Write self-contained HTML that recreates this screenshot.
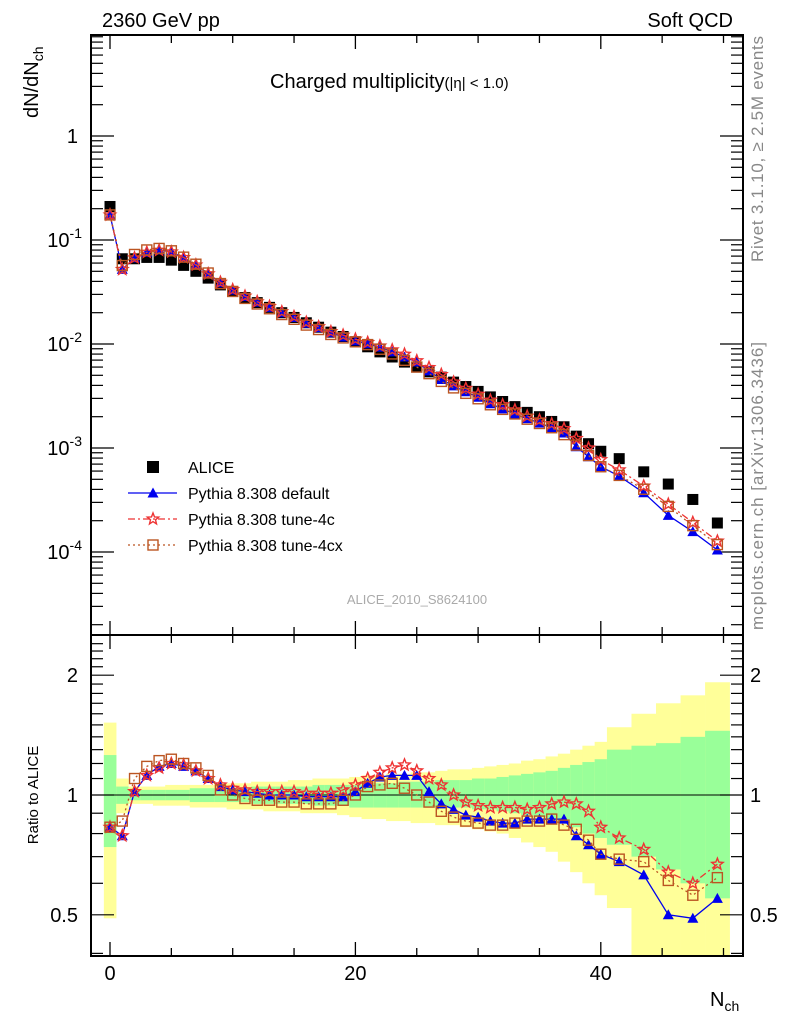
<!DOCTYPE html>
<html><head><meta charset="utf-8"><style>
body{margin:0;background:#fff;}
svg{display:block;font-family:"Liberation Sans",sans-serif;}
</style></head><body>
<svg id="c" width="786" height="1024" viewBox="0 0 786 1024" xmlns="http://www.w3.org/2000/svg">
<g id="bands"></g>
<g id="frame"></g>
<g id="series"></g>
<text x="102" y="27" font-size="20">2360 GeV pp</text>
<text x="733" y="27" font-size="20" text-anchor="end">Soft QCD</text>
<text x="270" y="88" font-size="20">Charged multiplicity<tspan font-size="15">(|η| &lt; 1.0)</tspan></text>
<text transform="translate(763,149) rotate(-90)" font-size="17" fill="#888" text-anchor="middle" textLength="226">Rivet 3.1.10, ≥ 2.5M events</text>
<text transform="translate(763,486) rotate(-90)" font-size="17" fill="#888" text-anchor="middle" textLength="288">mcplots.cern.ch [arXiv:1306.3436]</text>
<text x="417" y="604" font-size="13" fill="#aaa" text-anchor="middle">ALICE_2010_S8624100</text>
<text transform="translate(38,118) rotate(-90)" font-size="20">dN/dN<tspan font-size="14" dy="5">ch</tspan></text>
<text transform="translate(38,795) rotate(-90)" font-size="15" text-anchor="middle">Ratio to ALICE</text>
<text x="710" y="1006" font-size="20">N<tspan font-size="14" dy="5">ch</tspan></text>
<g id="legend"></g>
</svg>
<script>
const xs=[0,1,2,3,4,5,6,7,8,9,10,11,12,13,14,15,16,17,18,19,20,21,22,23,24,25,26,27,28,29,30,31,32,33,34,35,36,37,38,39,40,41.5,43.5,45.5,47.5,49.5];
const aliceVals=[0.21,0.066,0.066,0.068,0.068,0.064,0.057,0.05,0.043,0.037,0.032,0.028,0.025,0.0225,0.02,0.018,0.016,0.0145,0.013,0.0118,0.0105,0.0094,0.0084,0.0075,0.0067,0.006,0.0054,0.0048,0.0043,0.0039,0.0035,0.0031,0.0028,0.0025,0.0022,0.002,0.0018,0.0016,0.0013,0.0011,0.00093,0.00079,0.00059,0.00045,0.00032,0.00019];
const ratioDefault=[0.83,0.79,1.02,1.12,1.18,1.2,1.18,1.15,1.1,1.05,1.03,1.02,1.01,1.0,1.0,1.0,0.99,0.99,0.99,0.99,1.02,1.07,1.11,1.12,1.12,1.12,1.02,0.95,0.92,0.89,0.88,0.86,0.85,0.85,0.87,0.87,0.87,0.87,0.79,0.75,0.71,0.68,0.63,0.5,0.49,0.55];
const ratio4c=[0.83,0.79,1.02,1.12,1.17,1.2,1.19,1.15,1.1,1.06,1.04,1.03,1.02,1.02,1.02,1.02,1.01,1.01,1.01,1.03,1.06,1.1,1.14,1.17,1.19,1.15,1.1,1.06,1.0,0.96,0.94,0.93,0.93,0.93,0.92,0.93,0.95,0.96,0.95,0.91,0.83,0.78,0.73,0.64,0.6,0.67];
const ratio4cx=[0.83,0.86,1.1,1.18,1.22,1.23,1.2,1.17,1.12,1.03,1.0,0.98,0.97,0.97,0.96,0.96,0.95,0.95,0.95,0.97,1.0,1.05,1.06,1.07,1.04,1.0,0.96,0.91,0.88,0.86,0.85,0.84,0.84,0.85,0.86,0.86,0.87,0.84,0.82,0.77,0.71,0.69,0.68,0.61,0.56,0.62];
const yellowHi=[1.52,1.1,1.05,1.05,1.05,1.06,1.06,1.06,1.06,1.07,1.07,1.07,1.08,1.08,1.08,1.09,1.09,1.1,1.1,1.1,1.11,1.12,1.12,1.13,1.13,1.14,1.14,1.15,1.16,1.16,1.17,1.18,1.19,1.2,1.22,1.23,1.25,1.27,1.3,1.33,1.36,1.48,1.6,1.7,1.78,1.92];
const yellowLo=[0.49,0.9,0.95,0.95,0.94,0.94,0.94,0.93,0.93,0.93,0.92,0.92,0.92,0.91,0.91,0.91,0.9,0.9,0.9,0.89,0.88,0.87,0.87,0.86,0.86,0.85,0.85,0.84,0.84,0.83,0.82,0.81,0.8,0.78,0.76,0.74,0.72,0.68,0.64,0.6,0.56,0.52,0.38,0.38,0.38,0.38];
const greenHi=[1.26,1.05,1.03,1.03,1.03,1.03,1.03,1.04,1.04,1.04,1.04,1.04,1.05,1.05,1.05,1.05,1.05,1.06,1.06,1.06,1.06,1.07,1.07,1.07,1.08,1.08,1.08,1.09,1.09,1.09,1.1,1.1,1.11,1.12,1.13,1.14,1.15,1.17,1.19,1.21,1.23,1.3,1.33,1.35,1.4,1.45];
const greenLo=[0.74,0.95,0.97,0.97,0.97,0.97,0.97,0.96,0.96,0.96,0.96,0.96,0.95,0.95,0.95,0.95,0.95,0.94,0.94,0.94,0.93,0.93,0.93,0.93,0.93,0.93,0.93,0.93,0.93,0.93,0.92,0.92,0.91,0.9,0.89,0.88,0.87,0.85,0.83,0.8,0.78,0.75,0.7,0.65,0.6,0.55];
const xTicks=[0,20,40];
const yDecades=[1,0.1,0.01,0.001,0.0001];
const yDecadeLabels=["1","10^-1","10^-2","10^-3","10^-4"];
const ratioTicks=[0.5,1,2];
const ratioLabels=["0.5","1","2"];

const NS="http://www.w3.org/2000/svg";
const L=91,R=743,T=35,MID=635,B=956;
const X=v=>110+v*12.27;
const Y=v=>136-104*Math.log10(v);
const YR=v=>795-398*Math.log10(v);
function mk(tag,attrs,parent){const e=document.createElementNS(NS,tag);for(const k in attrs)e.setAttribute(k,attrs[k]);parent.appendChild(e);return e;}
const bands=document.getElementById('bands'),frame=document.getElementById('frame'),ser=document.getElementById('series'),leg=document.getElementById('legend');
function edges(i){let lo=i<=40?xs[i]-0.5:xs[i]-1,hi=i<=40?xs[i]+0.5:xs[i]+1;if(i==40)hi=40.5;return[lo,hi];}
function clampR(v){return Math.min(Math.max(YR(v),MID),B);}
for(let i=0;i<xs.length;i++){
 const [a,b]=edges(i);
 const y=mk('rect',{x:X(a),y:clampR(yellowHi[i]),width:X(b)-X(a)+0.3,height:clampR(yellowLo[i])-clampR(yellowHi[i]),fill:'#ffff99'},bands);
 
 
 const g=mk('rect',{x:X(a),y:clampR(greenHi[i]),width:X(b)-X(a)+0.3,height:clampR(greenLo[i])-clampR(greenHi[i]),fill:'#99ff99'},bands);
 
 
}
mk('rect',{x:L,y:T,width:R-L,height:B-T,fill:'none',stroke:'#000','stroke-width':2},frame);
mk('line',{x1:L,x2:R,y1:MID,y2:MID,stroke:'#000','stroke-width':2},frame);
mk('line',{x1:L,x2:R,y1:YR(1),y2:YR(1),stroke:'#000','stroke-width':1},frame);
for(let v=0;v<=50;v+=5){const maj=v%20==0;const len=maj?14:8;
 for(const [y0,dir] of [[T,1],[MID,-1],[MID,1],[B,-1]]) mk('line',{x1:X(v),x2:X(v),y1:y0,y2:y0+dir*len,stroke:'#000','stroke-width':1.3},frame);}
xTicks.forEach(v=>{const t=mk('text',{x:X(v),y:980,'font-size':20,'text-anchor':'middle'},frame);t.textContent=v;
 
 });
for(let e=1;e>=-5;e--){for(let m=1;m<10;m++){const v=m*Math.pow(10,e);const y=Y(v);if(y<T||y>MID)continue;const len=m==1?23:12;
 mk('line',{x1:L,x2:L+len,y1:y,y2:y,stroke:'#000','stroke-width':1.2},frame);mk('line',{x1:R,x2:R-len,y1:y,y2:y,stroke:'#000','stroke-width':1.2},frame);}}
yDecades.forEach((v,i)=>{const t=mk('text',{x:78,y:Y(v)+7,'font-size':20,'text-anchor':'end'},frame);
 const lab=yDecadeLabels[i];
 if(lab.indexOf('^')<0)t.textContent=lab;else{const p=lab.split('^');t.textContent=p[0];const s=mk('tspan',{dy:-9,'font-size':14},t);s.textContent=p[1];t.setAttribute('x',82);}
 
 });
for(let v=0.4;v<=2.5;v+=0.1){const y=YR(v);if(y<MID||y>B)continue;const maj=Math.abs(v-0.5)<1e-6||Math.abs(v-1)<1e-6||Math.abs(v-2)<1e-6;const len=maj?23:12;
 mk('line',{x1:L,x2:L+len,y1:y,y2:y,stroke:'#000','stroke-width':1.2},frame);mk('line',{x1:R,x2:R-len,y1:y,y2:y,stroke:'#000','stroke-width':1.2},frame);}
ratioTicks.forEach((v,i)=>{for(const [x,anc] of [[78,'end'],[750,'start']]){const t=mk('text',{x:x,y:YR(v)+7,'font-size':20,'text-anchor':anc},frame);t.textContent=ratioLabels[i];
 
 }});
function tri(g,x,y,c){mk('polygon',{points:`${x},${y-5.5} ${x-5.5},${y+4.5} ${x+5.5},${y+4.5}`,fill:c},g);}
function star(g,x,y,c){let p=[];for(let k=0;k<10;k++){const r=k%2?2.6:6,a=-Math.PI/2+k*Math.PI/5;p.push((x+r*Math.cos(a)).toFixed(1)+','+(y+r*Math.sin(a)).toFixed(1));}mk('polygon',{points:p.join(' '),fill:'none',stroke:c,'stroke-width':1.4},g);}
function sq(g,x,y,c){mk('rect',{x:x-5,y:y-5,width:10,height:10,fill:'none',stroke:c,'stroke-width':1.4},g);}
const styles=[
 {name:'default',r:ratioDefault,c:'#0000ee',dash:'',m:tri},
 {name:'tune-4c',r:ratio4c,c:'#ee3333',dash:'7,3,2,3',m:star},
 {name:'tune-4cx',r:ratio4cx,c:'#bb5522',dash:'2,3',m:sq}];
const ga=mk('g',{},ser);
xs.forEach((x,i)=>{const r=mk('rect',{x:X(x)-5.5,y:Y(aliceVals[i])-5.5,width:11,height:11,fill:'#000'},ga);
 
 });
styles.forEach(s=>{
 const g=mk('g',{},ser);
 
 
 const pm=xs.map((x,i)=>X(x).toFixed(1)+','+Y(aliceVals[i]*s.r[i]).toFixed(1)).join(' ');
 const pr=xs.map((x,i)=>X(x).toFixed(1)+','+YR(s.r[i]).toFixed(1)).join(' ');
 mk('polyline',{points:pm,fill:'none',stroke:s.c,'stroke-width':1.3,'stroke-dasharray':s.dash},g);
 mk('polyline',{points:pr,fill:'none',stroke:s.c,'stroke-width':1.3,'stroke-dasharray':s.dash},g);
 xs.forEach((x,i)=>{s.m(g,X(x),Y(aliceVals[i]*s.r[i]),s.c);s.m(g,X(x),YR(s.r[i]),s.c);});
});
const labs=['ALICE','Pythia 8.308 default','Pythia 8.308 tune-4c','Pythia 8.308 tune-4cx'];
labs.forEach((l,i)=>{const y=467+i*26;const g=mk('g',{},leg);
 
 
 if(i==0)mk('rect',{x:147,y:y-6,width:12,height:12,fill:'#000'},g);
 else{const s=styles[i-1];mk('line',{x1:128,x2:177,y1:y,y2:y,stroke:s.c,'stroke-width':1.3,'stroke-dasharray':s.dash},g);s.m(g,153,y,s.c);}
 const t=mk('text',{x:188,y:y+6,'font-size':16},g);t.textContent=l;});
</script>
</body></html>
